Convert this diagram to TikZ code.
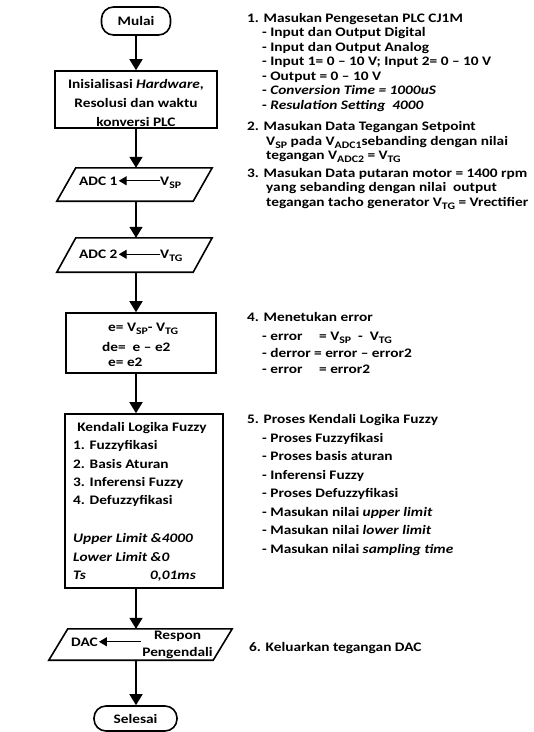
\documentclass[tikz,border=0pt]{standalone}
\usepackage{fontspec}
\setmainfont{Carlito}[FakeStretch=1.18]
\usetikzlibrary{arrows.meta}
\newcommand{\mysub}[1]{\raisebox{-3pt}{\fontsize{10}{10}\selectfont #1}}
\begin{document}
\begin{tikzpicture}[x=1pt,y=-1pt,
  box/.style={draw, line width=1.6pt, inner sep=0pt},
  term/.style={box, rounded corners=12pt, font=\fontsize{13}{15}\selectfont\bfseries},
  ghost/.style={inner sep=0pt},
  para/.style={line width=1.6pt},
  flow/.style={line width=1.6pt, -{Triangle[width=13pt,length=11pt]}},
  inarr/.style={line width=1.4pt, -{Triangle[width=9pt,length=8pt]}, shorten >=1pt},
  txt/.style={inner sep=0pt, font=\fontsize{13}{15}\selectfont\bfseries},
  lbl/.style={txt, anchor=base west},
  clbl/.style={txt, anchor=base},
]
\useasboundingbox (0,0) rectangle (534,732);
\coordinate (cx) at (136,0);

% ---- flowchart shapes
\node[term, minimum width=69pt, minimum height=28pt] (mulai) at (136,21) {Mulai};
\node[box, minimum width=162pt, minimum height=57pt] (init) at (136,99.5) {};
\node[ghost, minimum width=155pt, minimum height=33pt] (adc1) at (134.5,184.5) {};
\node[ghost, minimum width=155pt, minimum height=34pt] (adc2) at (134.5,255) {};
\node[box, minimum width=150pt, minimum height=60pt] (ebox) at (141,343) {};
\node[box, minimum width=158pt, minimum height=174pt] (fuzzy) at (144,501) {};
\node[ghost, minimum width=183pt, minimum height=31pt] (dac) at (140.5,644.5) {};
\node[term, minimum width=83pt, minimum height=25pt] (selesai) at (135.5,718.5) {Selesai};

\foreach \p in {adc1,adc2,dac}{
  \draw[para] ([xshift=19pt]\p.north west) -- (\p.north east)
     -- ([xshift=-19pt]\p.south east) -- (\p.south west) -- cycle;
}

% ---- connectors
\draw[flow] (mulai.south -| cx) -- (init.north -| cx);
\draw[flow] (init.south -| cx) -- (adc1.north -| cx);
\draw[flow] (adc1.south -| cx) -- (adc2.north -| cx);
\draw[flow] (adc2.south -| cx) -- (ebox.north -| cx);
\draw[flow] (ebox.south -| cx) -- (fuzzy.north -| cx);
\draw[flow] (fuzzy.south -| cx) -- (dac.north -| cx);
\draw[flow] (dac.south -| cx) -- (selesai.north -| cx);

% ---- texts in the flowchart
\node[clbl] (init1) at (136,88.5) {Inisialisasi \textit{Hardware},};
\node[clbl] (init2) at (136,107) {Resolusi dan waktu};
\node[clbl] (init3) at (136,126) {konversi PLC};

\node[lbl] (a1) at (79,185) {ADC 1};
\node[lbl] (vsp) at (160,185) {V\mysub{SP}};
\draw[inarr] (vsp.west |- a1.east) -- (a1.east);

\node[lbl] (a2) at (79,258.5) {ADC 2};
\node[lbl] (vtg) at (160,258.5) {V\mysub{TG}};
\draw[inarr] (vtg.west |- a2.east) -- (a2.east);

\node[lbl] (e1) at (108,331) {e=\ V\mysub{SP}- V\mysub{TG}};
\node[lbl] (e2) at (102,351) {de=\ \ e -- e2};
\node[lbl] (e3) at (108,366) {e= e2};

\node[clbl] (f0) at (142,431.5) {Kendali Logika Fuzzy};
\node[lbl] (f1) at (73,449.5) {1. Fuzzyfikasi};
\node[lbl] (f2) at (73,468) {2. Basis Aturan};
\node[lbl] (f3) at (73,486.3) {3. Inferensi Fuzzy};
\node[lbl] (f4) at (73,504.5) {4. Defuzzyfikasi};
\node[lbl] (f5) at (73,542.7) {\itshape Upper Limit \&4000};
\node[lbl] (f6) at (73,561) {\itshape Lower Limit \&0};
\node[lbl] (f7) at (73,579.5) {\itshape Ts};
\node[lbl] (f8) at (150,579.5) {\itshape 0,01ms};

\node[lbl] (dactxt) at (71,646) {DAC};
\node[clbl] (respon) at (177.5,639) {Respon};
\node[clbl] (peng) at (177.5,656.5) {Pengendali};
\draw[inarr] ([xshift=-1pt]peng.west |- dactxt.east) -- (dactxt.east);

% ---- explanations on the right
\node[lbl] (t1) at (247,22) {1. Masukan Pengesetan PLC CJ1M};
\node[lbl] (t1a) at (262,36.5) {- Input dan Output Digital};
\node[lbl] (t1b) at (262,51) {- Input dan Output Analog};
\node[lbl] (t1c) at (262,65.5) {- Input 1= 0 -- 10 V; Input 2= 0 -- 10 V};
\node[lbl] (t1d) at (262,80) {- Output = 0 -- 10 V};
\node[lbl] (t1e) at (262,94.5) {- \textit{Conversion Time = 1000uS}};
\node[lbl] (t1f) at (262,109) {- \textit{Resulation Setting\ \ 4000}};

\node[lbl] (t2) at (247,130) {2. Masukan Data Tegangan Setpoint};
\node[lbl] (t2a) at (266,145) {V\mysub{SP} pada V\mysub{ADC1}sebanding dengan nilai};
\node[lbl] (t2b) at (266,159) {tegangan V\mysub{ADC2} = V\mysub{TG}};

\node[lbl] (t3) at (247,177) {3. Masukan Data putaran motor = 1400 rpm};
\node[lbl] (t3a) at (266,191.5) {yang sebanding dengan nilai\ \ output};
\node[lbl] (t3b) at (266,206) {tegangan tacho generator V\mysub{TG} = Vrectifier};

\node[lbl] (t4) at (247,321.5) {4. Menetukan error};
\node[lbl] (t4a) at (262,340) {\makebox[57pt][l]{- error}= V\mysub{SP}\ \ -\ \ V\mysub{TG}};
\node[lbl] (t4b) at (262,357.5) {\makebox[52pt][l]{- derror}= error -- error2};
\node[lbl] (t4c) at (262,373.5) {\makebox[57pt][l]{- error}= error2};

\node[lbl] (t5) at (247,423.5) {5. Proses Kendali Logika Fuzzy};
\node[lbl] (t5a) at (262,442) {- Proses Fuzzyfikasi};
\node[lbl] (t5b) at (262,460.5) {- Proses basis aturan};
\node[lbl] (t5c) at (262,479) {- Inferensi Fuzzy};
\node[lbl] (t5d) at (262,497.5) {- Proses Defuzzyfikasi};
\node[lbl] (t5e) at (262,516) {- Masukan nilai \textit{upper limit}};
\node[lbl] (t5f) at (262,534.5) {- Masukan nilai \textit{lower limit}};
\node[lbl] (t5g) at (262,553) {- Masukan nilai \textit{sampling time}};

\node[lbl] (t6) at (249,651) {6. Keluarkan tegangan DAC};
\end{tikzpicture}
\end{document}
